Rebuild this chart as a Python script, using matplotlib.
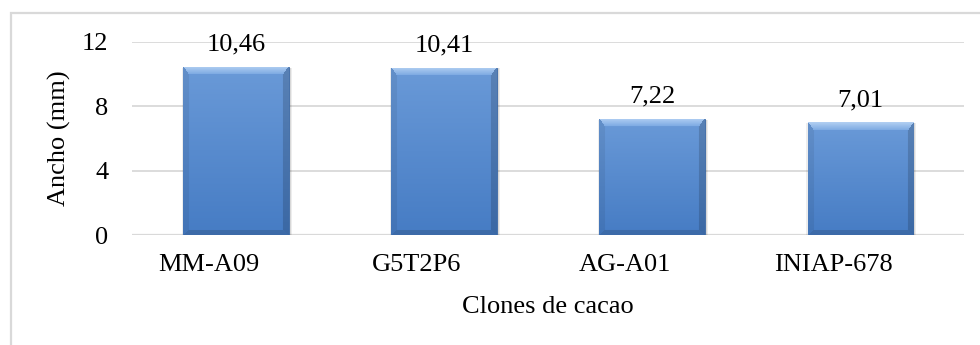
import numpy as np
import matplotlib.pyplot as plt
from matplotlib.patches import Rectangle
from matplotlib.transforms import offset_copy

clones = ["MM-A09", "G5T2P6", "AG-A01", "INIAP-678"]
ancho = [10.46, 10.41, 7.22, 7.01]
etiquetas = ["10,46", "10,41", "7,22", "7,01"]
yticks = [0, 4, 8, 12]

plt.rcParams["font.family"] = ["Liberation Serif", "DejaVu Serif"]
fs = 19

fig = plt.figure(figsize=(9.8, 3.45), dpi=100)
ax = fig.add_axes([0.1347, 0.3188, 0.8490, 0.5595])

# light frame around the chart area
fig.patches.append(Rectangle((11 / 980, -0.1), 1.2, 1 - 13 / 345 + 0.1,
                             transform=fig.transFigure, fill=False,
                             edgecolor="#d9d9d9", linewidth=1.6, zorder=0))

x = np.arange(len(clones))
width = 0.505
bars = ax.bar(x, ancho, width=width, color="#4f81bd", edgecolor="#3a68a4",
              linewidth=0.6, zorder=3)


def bevel_image(h, w, b=8):
    r = np.arange(h)[:, None] * np.ones((1, w))
    c = np.ones((h, 1)) * np.arange(w)[None, :]
    t = (r / max(h - 1, 1))[..., None]
    top = np.array([106, 154, 216]) / 255
    bot = np.array([70, 124, 196]) / 255
    img = top * (1 - t) + bot * t
    dt, db, dl, dr = r, h - 1 - r, c, w - 1 - c
    d = np.stack([dt, dl * 1.4, dr * 1.4, db * 1.6])
    near = np.argmin(d, axis=0)
    edge = d.min(axis=0) < b
    # top bevel fades from pale to body colour
    s = (r / b)[..., None]
    pale = np.array([176, 206, 242]) / 255
    mid = np.array([122, 168, 226]) / 255
    topband = pale * (1 - s) + mid * s
    m = edge & (near == 0)
    img[m] = topband[m]
    # side and bottom bevels are just a touch darker than the body
    for k, f in [(1, 0.93), (2, 0.84), (3, 0.86)]:
        m = edge & (near == k)
        img[m] = img[m] * f
    return img


px_per_unit = 194 / 12
for bar in bars:
    x0, y0 = bar.get_x(), bar.get_y()
    w, h = bar.get_width(), bar.get_height()
    # soft shadow around the bar
    for grow, a in [(0.012, 0.07), (0.006, 0.09)]:
        ax.add_patch(Rectangle((x0 - grow + 0.006, y0 - 0.1), w + 2 * grow,
                               h + 0.05, color="#000000", alpha=a,
                               linewidth=0, zorder=2))
    img = bevel_image(int(h * px_per_unit), int(w * 208))
    im = ax.imshow(img, extent=(x0, x0 + w, y0, y0 + h), aspect="auto",
                   zorder=4, interpolation="bilinear")
    im.set_clip_path(bar)

for xi, v, lab in zip(x, ancho, etiquetas):
    ax.annotate(lab, (xi, v), xytext=(0, 11.5), textcoords="offset points",
                ha="center", va="baseline", fontsize=fs)

ax.set_xlim(-0.5, len(clones) - 0.5)
ax.set_ylim(0, 12)
ax.set_yticks(yticks)
ax.set_xticks(x)
ax.set_xticklabels(clones)
ax.tick_params(axis="both", length=0, labelsize=fs)
ax.tick_params(axis="y", pad=17)
ax.tick_params(axis="x", pad=14)
# category names sit a little left of the bar centres
for lbl in ax.get_xticklabels():
    lbl.set_transform(offset_copy(lbl.get_transform(), fig=fig, x=-27,
                                  units="dots"))
ax.grid(axis="y", color="#d9d9d9", linewidth=1.3, zorder=0)
ax.set_axisbelow(True)
for s in ax.spines.values():
    s.set_visible(False)
ax.axhline(0, color="#d9d9d9", linewidth=1.6, zorder=1)

ax.set_xlabel("Clones de cacao", fontsize=fs, labelpad=14)
ax.set_ylabel("Ancho (mm)", fontsize=fs, labelpad=8)

fig.savefig("out.png", dpi=100)
